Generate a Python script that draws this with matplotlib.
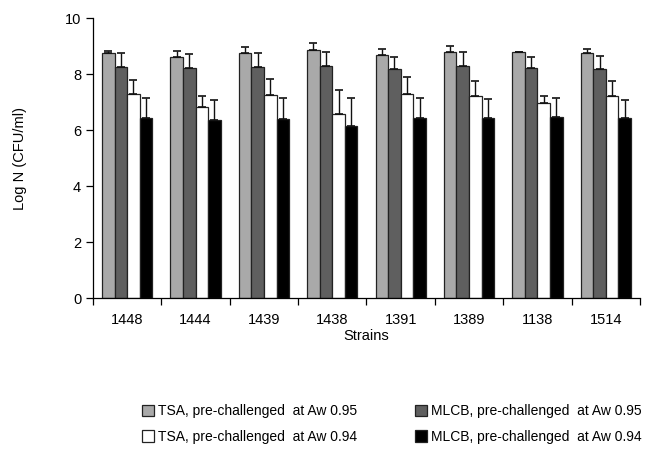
import numpy as np
import matplotlib
matplotlib.use('Agg')
import matplotlib.pyplot as plt
from matplotlib.patches import Patch

plt.rcParams['font.family'] = ['Liberation Sans', 'DejaVu Sans']

strains = ['1448', '1444', '1439', '1438', '1391', '1389', '1138', '1514']
tsa_95 = [8.74, 8.61, 8.74, 8.86, 8.67, 8.80, 8.77, 8.74]
tsa_95_err = [0.09, 0.22, 0.24, 0.26, 0.22, 0.20, 0.02, 0.16]
mlcb_95 = [8.26, 8.23, 8.26, 8.29, 8.17, 8.27, 8.21, 8.17]
mlcb_95_err = [0.48, 0.48, 0.50, 0.51, 0.43, 0.50, 0.40, 0.47]
tsa_94 = [7.29, 6.81, 7.24, 6.57, 7.29, 7.23, 6.98, 7.20]
tsa_94_err = [0.50, 0.42, 0.57, 0.86, 0.60, 0.53, 0.23, 0.55]
mlcb_94 = [6.43, 6.36, 6.39, 6.14, 6.42, 6.42, 6.46, 6.42]
mlcb_94_err = [0.70, 0.72, 0.74, 1.01, 0.73, 0.67, 0.69, 0.66]

labels = ['TSA, pre-challenged  at Aw 0.95', 'MLCB, pre-challenged  at Aw 0.95',
          'TSA, pre-challenged  at Aw 0.94', 'MLCB, pre-challenged  at Aw 0.94']
colors = ['#a9a9a9', '#5f5f5f', '#ffffff', '#000000']

series = [(tsa_95, tsa_95_err), (mlcb_95, mlcb_95_err),
          (tsa_94, tsa_94_err), (mlcb_94, mlcb_94_err)]

fig = plt.figure(figsize=(6.51, 4.61), dpi=100)
ax = fig.add_axes([93/651, 1-298/461, 547/651, 280/461])

x = np.arange(len(strains))
w = 0.184
for k, (vals, errs) in enumerate(series):
    pos = x + (k - 1.5) * w
    ax.bar(pos, vals, width=w, color=colors[k], edgecolor='#222222', linewidth=0.9,
           yerr=[np.zeros(len(errs)), errs],
           error_kw=dict(ecolor='#111111', elinewidth=1.0, capsize=3, capthick=1.2))

ax.set_xlim(-0.5, len(strains) - 0.5)
ax.set_ylim(0, 10)
ax.set_yticks([0, 2, 4, 6, 8, 10])
ax.set_xticks(x)
ax.set_xticklabels(strains)
ax.set_xticks(np.arange(-0.5, len(strains)), minor=True)
ax.tick_params(axis='x', which='major', length=0, pad=11, labelsize=10.5)
ax.tick_params(axis='x', which='minor', length=5, direction='out', width=0.9)
ax.tick_params(axis='y', length=5, direction='out', width=0.9, labelsize=10.5)
for s in ['top', 'right']:
    ax.spines[s].set_visible(False)
ax.spines['left'].set_linewidth(0.9)
ax.spines['bottom'].set_linewidth(0.9)
ax.set_xlabel('Strains', fontsize=10.5, labelpad=1)
ax.set_ylabel('Log N (CFU/ml)', fontsize=10.5, labelpad=27)

handles = [Patch(facecolor=c, edgecolor='#222222', linewidth=0.9) for c in colors]
order = [0, 2, 1, 3]
fig.legend([handles[i] for i in order], [labels[i] for i in order], ncol=2,
           loc='upper left', bbox_to_anchor=(142/651, 1-404/461), frameon=False,
           fontsize=10, handlelength=0.85, handleheight=0.85, handletextpad=0.3,
           columnspacing=4.2, labelspacing=0.85, borderpad=0, borderaxespad=0)

fig.savefig('out.png', dpi=100)
